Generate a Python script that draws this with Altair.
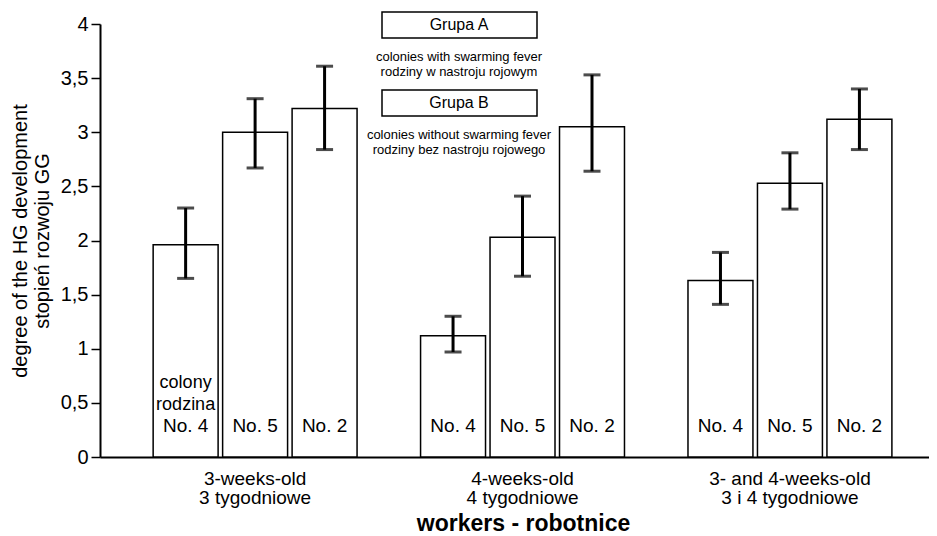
import altair as alt
import pandas as pd

# ---- data ----
groups = ["3-weeks-old|3 tygodniowe", "4-weeks-old|4 tygodniowe", "3- and 4-weeks-old|3 i 4 tygodniowe"]
colonies = ["No. 4", "No. 5", "No. 2"]
means = [[1.96, 3.00, 3.22], [1.12, 2.03, 3.05], [1.63, 2.53, 3.12]]
lows = [[1.65, 2.67, 2.84], [0.97, 1.67, 2.64], [1.41, 2.29, 2.84]]
highs = [[2.30, 3.31, 3.61], [1.30, 2.41, 3.53], [1.89, 2.81, 3.40]]
bar_labels = [["No. 4", "No. 5", "No. 2"],
              ["No. 4", "No. 5", "No. 2"],
              ["No. 4", "No. 5", "No. 2"]]
bar_extra = [["colony|rodzina", "", ""],
             ["", "", ""],
             ["", "", ""]]
y_ticks = [0, 0.5, 1, 1.5, 2, 2.5, 3, 3.5, 4]
y_title = ["degree of the HG development", "stopień rozwoju GG"]
x_title = "workers - robotnice"
legend_a = "Grupa A"
legend_a_desc = "colonies with swarming fever|rodziny w nastroju rojowym"
legend_b = "Grupa B"
legend_b_desc = "colonies without swarming fever|rodziny bez nastroju rojowego"

rows = []
for gi, g in enumerate(groups):
    for ci, c in enumerate(colonies):
        rows.append({"group": g, "colony": c, "mean": means[gi][ci],
                     "lo": lows[gi][ci], "hi": highs[gi][ci],
                     "label": bar_labels[gi][ci], "extra": bar_extra[gi][ci]})
df = pd.DataFrame(rows)

FONT = "Liberation Sans"

x_scale = alt.Scale(paddingInner=0, paddingOuter=0.05, align=0.8)
x_axis = alt.Axis(title=x_title, titleFontSize=23, titleFontWeight="bold",
                  titleColor="black", titleFont=FONT,
                  titleX=423, titleY=66, titleBaseline="middle", titleAlign="center",
                  labelExpr="split(datum.label, '|')", labelFontSize=19,
                  labelLineHeight=19, labelPadding=12, labelAngle=0,
                  labelColor="black", labelFont=FONT,
                  ticks=False, domainColor="black", domainWidth=2)
y_scale = alt.Scale(domain=[0, 4], nice=False, zero=True)
y_axis = alt.Axis(values=y_ticks, grid=False,
                  labelExpr="replace(format(datum.value, ''), '.', ',')",
                  labelFontSize=20, labelColor="black", labelFont=FONT,
                  labelPadding=3, tickSize=9, tickColor="black", tickWidth=1.5,
                  domainColor="black", domainWidth=2,
                  title=y_title, titleFontSize=20, titleFontWeight="normal",
                  titleColor="black", titleFont=FONT, titleLineHeight=22,
                  titlePadding=8)

def X():
    return alt.X("group:N", sort=groups, scale=x_scale, axis=x_axis)

def Y(field):
    return alt.Y(field, scale=y_scale, axis=y_axis)

xoff = alt.XOffset("colony:N", sort=colonies,
                   scale=alt.Scale(paddingInner=0.065, paddingOuter=0.457))

base = alt.Chart(df)

bars = base.mark_bar(fill="white", stroke="black", strokeWidth=1.5).encode(
    x=X(), xOffset=xoff, y=Y("mean:Q"))

err = base.mark_rule(color="black", strokeWidth=3).encode(
    x=X(), xOffset=xoff, y=Y("lo:Q"), y2="hi:Q")
cap_lo = base.mark_tick(color="black", size=17, thickness=3).encode(
    x=X(), xOffset=xoff, y=Y("lo:Q"))
cap_hi = base.mark_tick(color="black", size=17, thickness=3).encode(
    x=X(), xOffset=xoff, y=Y("hi:Q"))

labels = base.mark_text(font=FONT, fontSize=19, color="black", baseline="alphabetic",
                        dy=-25).encode(
    x=X(), xOffset=xoff, y=alt.YDatum(0, scale=y_scale, axis=y_axis), text="label:N")
extra = base.mark_text(font=FONT, fontSize=18, color="black", baseline="alphabetic",
                       lineBreak="|", lineHeight=22, dy=-69).encode(
    x=X(), xOffset=xoff, y=alt.YDatum(0, scale=y_scale, axis=y_axis), text="extra:N")

one = pd.DataFrame({"k": [0]})
box_a = alt.Chart(one).mark_rect(fill="white", stroke="black", strokeWidth=1.5).encode(
    x=alt.value(282), x2=alt.value(437), y=alt.value(-12), y2=alt.value(14))
txt_a = alt.Chart(one).mark_text(font=FONT, fontSize=16, color="black").encode(
    x=alt.value(359), y=alt.value(1), text=alt.value(legend_a))
desc_a = alt.Chart(one).mark_text(font=FONT, fontSize=13, color="black", lineBreak="|",
                                  lineHeight=15, baseline="top").encode(
    x=alt.value(359), y=alt.value(27), text=alt.value(legend_a_desc))
box_b = alt.Chart(one).mark_rect(fill="white", stroke="black", strokeWidth=1.5).encode(
    x=alt.value(282), x2=alt.value(437), y=alt.value(66), y2=alt.value(92))
txt_b = alt.Chart(one).mark_text(font=FONT, fontSize=16, color="black").encode(
    x=alt.value(359), y=alt.value(79), text=alt.value(legend_b))
desc_b = alt.Chart(one).mark_text(font=FONT, fontSize=13, color="black", lineBreak="|",
                                  lineHeight=15, baseline="top").encode(
    x=alt.value(359), y=alt.value(105), text=alt.value(legend_b_desc))

chart = alt.layer(bars, err, cap_lo, cap_hi, labels, extra,
                  box_a, txt_a, desc_a, box_b, txt_b, desc_b).properties(
    width=829, height=433,
    autosize=alt.AutoSizeParams(type="none"),
    padding={"left": 92, "top": 16, "right": 0, "bottom": 79},
    background="white",
).configure_view(stroke=None)

chart.save("out.html", embed_options={"renderer": "svg", "actions": False})
